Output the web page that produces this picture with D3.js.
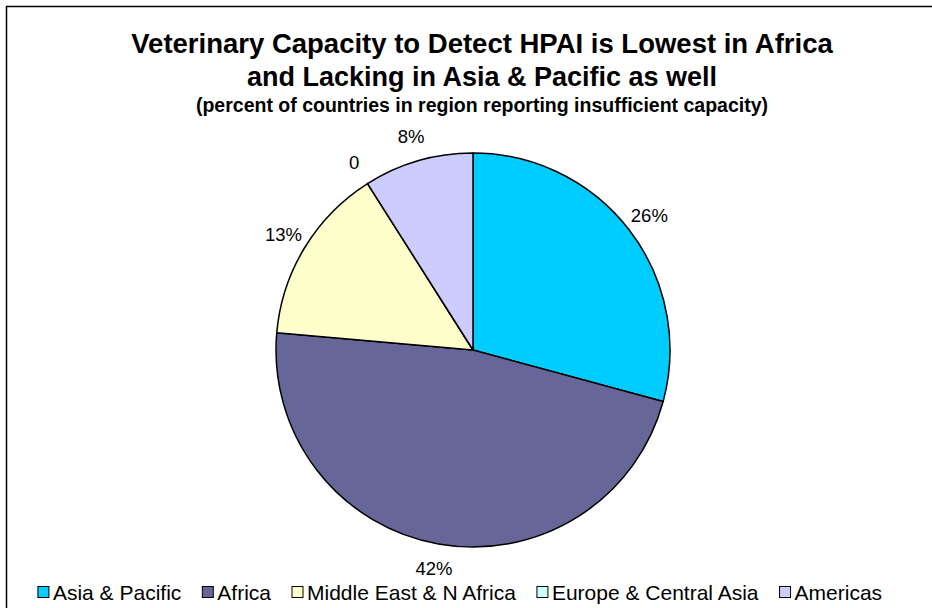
<!DOCTYPE html>
<html>
<head>
<meta charset="utf-8">
<script src="https://cdn.jsdelivr.net/npm/d3@7"></script>
<style>
  html, body { margin: 0; padding: 0; background: #fff; }
  svg { display: block; }
  text { font-family: "Liberation Sans", Arial, sans-serif; fill: #000; }
</style>
</head>
<body>
<svg id="chart" width="932" height="608"></svg>
<script>
const categories = ["Asia & Pacific", "Africa", "Middle East & N Africa", "Europe & Central Asia", "Americas"];
const values = [26, 42, 13, 0, 8];
const labels = ["26%", "42%", "13%", "0", "8%"];
const colors = ["#00CCFF", "#666699", "#FFFFCC", "#CCFFFF", "#CCCCFF"];
const titleLines = ["Veterinary Capacity to Detect HPAI is Lowest in Africa", "and Lacking in Asia & Pacific as well"];
const subtitle = "(percent of countries in region reporting insufficient capacity)";

const svg = d3.select("#chart");

// chart frame (top and left edges visible)
svg.append("path")
  .attr("d", "M6.5,608 L6.5,6.5 L932,6.5")
  .attr("fill", "none").attr("stroke", "#000").attr("stroke-width", 1.5);

// Titles
const cx = 482;
svg.append("text").attr("x", cx).attr("y", 53).attr("text-anchor", "middle")
  .attr("font-size", 27.5).attr("font-weight", "bold").text(titleLines[0]);
svg.append("text").attr("x", cx).attr("y", 86).attr("text-anchor", "middle")
  .attr("font-size", 27).attr("font-weight", "bold").text(titleLines[1]);
svg.append("text").attr("x", cx).attr("y", 112).attr("text-anchor", "middle")
  .attr("font-size", 19.5).attr("font-weight", "bold").text(subtitle);

// Pie
const center = [473, 350];
const r = 197;
const pie = d3.pie().sort(null).value(d => d);
const arcs = pie(values);
const arc = d3.arc().innerRadius(0).outerRadius(r);
const labelArc = d3.arc().innerRadius(222).outerRadius(222);

const g = svg.append("g").attr("transform", `translate(${center[0]},${center[1]})`);
g.selectAll("path.slice").data(arcs).join("path")
  .attr("class", "slice")
  .attr("d", arc)
  .attr("fill", (d, i) => colors[i])
  .attr("stroke", "#000").attr("stroke-width", 1.5).attr("stroke-linejoin", "round");

g.selectAll("text.lbl").data(arcs).join("text")
  .attr("class", "lbl")
  .attr("transform", d => `translate(${labelArc.centroid(d)})`)
  .attr("text-anchor", "middle")
  .attr("dominant-baseline", "central")
  .attr("font-size", 18.5)
  .text((d, i) => labels[i]);

// Legend
const legY = 592;
const legend = svg.append("g");
const items = legend.selectAll("g").data(categories).join("g");
items.append("rect").attr("width", 11).attr("height", 11)
  .attr("fill", (d, i) => colors[i]).attr("stroke", "#000").attr("stroke-width", 1);
items.append("text").attr("x", 15).attr("y", 5.5).attr("dominant-baseline", "central")
  .attr("font-size", 21).text(d => d);
const gap = 21;
const widths = items.nodes().map(n => 15 + d3.select(n).select("text").node().getComputedTextLength());
const total = d3.sum(widths) + gap * (widths.length - 1);
const start = 460 - total / 2;
items.attr("transform", (d, i) => {
  const x = start + d3.sum(widths.slice(0, i)) + gap * i;
  return `translate(${x},${legY - 5.5})`;
});
</script>
</body>
</html>
